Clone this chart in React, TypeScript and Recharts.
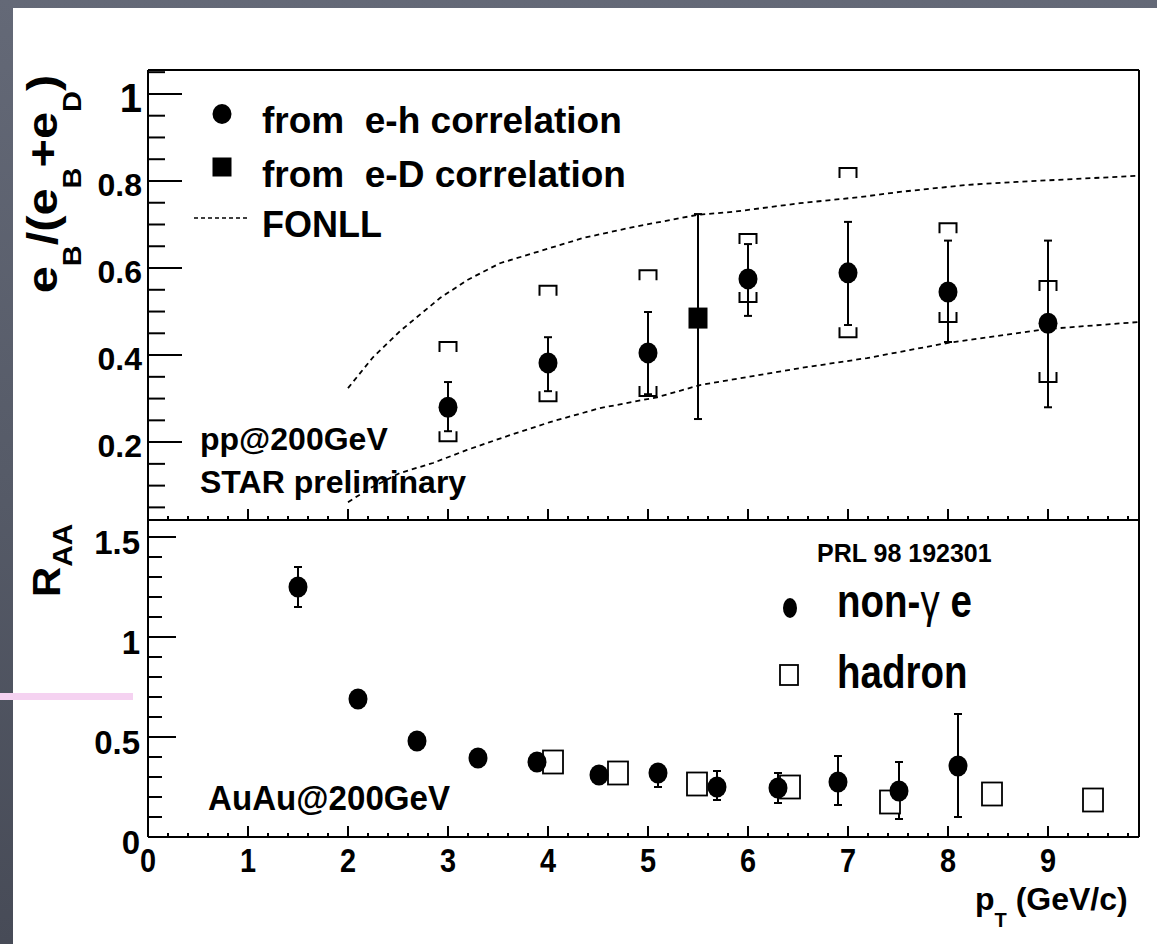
import React from 'react';
import { ComposedChart, Scatter, Line, XAxis, YAxis, ErrorBar, ReferenceLine } from 'recharts';

const FONT = '"Liberation Sans", Arial, Helvetica, sans-serif';

// ---------- axes ----------
const X_DOMAIN: [number, number] = [0, 9.91];
const X_TICKS = [0, 0.2, 0.4, 0.6, 0.8, 1, 1.2, 1.4, 1.6, 1.8, 2, 2.2, 2.4, 2.6, 2.8, 3, 3.2, 3.4, 3.6, 3.8, 4, 4.2, 4.4, 4.6, 4.8, 5, 5.2, 5.4, 5.6, 5.8, 6, 6.2, 6.4, 6.6, 6.8, 7, 7.2, 7.4, 7.6, 7.8, 8, 8.2, 8.4, 8.6, 8.8, 9, 9.2, 9.4, 9.6, 9.8];
const X_MAJOR = [0, 1, 2, 3, 4, 5, 6, 7, 8, 9];

const UP_Y_DOMAIN: [number, number] = [0.021, 1.055];
const UP_Y_TICKS = [0.05, 0.1, 0.15, 0.2, 0.25, 0.3, 0.35, 0.4, 0.45, 0.5, 0.55, 0.6, 0.65, 0.7, 0.75, 0.8, 0.85, 0.9, 0.95, 1, 1.05];
const UP_Y_MAJOR = [0.2, 0.4, 0.6, 0.8, 1];

const LO_Y_DOMAIN: [number, number] = [0, 1.585];
const LO_Y_TICKS = [0, 0.1, 0.2, 0.3, 0.4, 0.5, 0.6, 0.7, 0.8, 0.9, 1, 1.1, 1.2, 1.3, 1.4, 1.5];
const LO_Y_MAJOR = [0, 0.5, 1, 1.5];

// ---------- upper panel data ----------
const EH_X = [3, 4, 5, 6, 7, 8, 9];
const EH_Y = [0.28, 0.382, 0.405, 0.575, 0.589, 0.545, 0.473];
const EH_STAT_LO = [0.225, 0.317, 0.31, 0.49, 0.469, 0.43, 0.28];
const EH_STAT_HI = [0.338, 0.441, 0.499, 0.655, 0.706, 0.663, 0.663];
const EH_SYS_LO = [0.202, 0.294, 0.306, 0.522, 0.441, 0.476, 0.338];
const EH_SYS_HI = [0.43, 0.559, 0.595, 0.678, 0.83, 0.703, 0.57];

const ED_X = [5.5];
const ED_Y = [0.485];
const ED_STAT_LO = [0.253];
const ED_STAT_HI = [0.724];

const FONLL_HI_X = [2.0, 2.25, 2.52, 2.92, 3.19, 3.52, 3.95, 4.35, 4.85, 5.49, 5.85, 6.52, 7.12, 7.52, 8.19, 8.69, 9.91];
const FONLL_HI_Y = [0.324, 0.395, 0.455, 0.531, 0.572, 0.611, 0.641, 0.669, 0.694, 0.722, 0.729, 0.749, 0.763, 0.775, 0.791, 0.798, 0.812];
const FONLL_LO_X = [2.0, 2.22, 2.52, 2.85, 3.19, 3.62, 4.02, 4.52, 5.09, 5.52, 6.52, 7.19, 8.0, 9.0, 9.91];
const FONLL_LO_Y = [0.062, 0.094, 0.129, 0.152, 0.182, 0.216, 0.246, 0.278, 0.303, 0.331, 0.37, 0.393, 0.428, 0.46, 0.476];

// ---------- lower panel data ----------
const NG_X = [1.5, 2.1, 2.69, 3.3, 3.89, 4.51, 5.1, 5.69, 6.3, 6.9, 7.51, 8.1];
const NG_Y = [1.25, 0.69, 0.48, 0.395, 0.375, 0.31, 0.32, 0.25, 0.245, 0.275, 0.23, 0.355];
const NG_LO = [1.15, 0.665, 0.46, 0.375, 0.355, 0.29, 0.25, 0.185, 0.17, 0.16, 0.09, 0.1];
const NG_HI = [1.35, 0.715, 0.5, 0.415, 0.395, 0.33, 0.35, 0.33, 0.32, 0.405, 0.375, 0.615];

const HAD_X = [4.05, 4.7, 5.49, 6.42, 7.42, 8.44, 9.45];
const HAD_Y = [0.375, 0.32, 0.265, 0.25, 0.175, 0.215, 0.185];

// ---------- tables ----------
const ehData = EH_X.map((x, i) => ({ x, y: EH_Y[i], err: [EH_Y[i] - EH_STAT_LO[i], EH_STAT_HI[i] - EH_Y[i]] }));
const ehSysHi = EH_X.map((x, i) => ({ x, y: EH_SYS_HI[i] }));
const ehSysLo = EH_X.map((x, i) => ({ x, y: EH_SYS_LO[i] }));
const edData = ED_X.map((x, i) => ({ x, y: ED_Y[i], err: [ED_Y[i] - ED_STAT_LO[i], ED_STAT_HI[i] - ED_Y[i]] }));
const fonllHi = FONLL_HI_X.map((x, i) => ({ x, y: FONLL_HI_Y[i] }));
const fonllLo = FONLL_LO_X.map((x, i) => ({ x, y: FONLL_LO_Y[i] }));
const ngData = NG_X.map((x, i) => ({ x, y: NG_Y[i], err: [NG_Y[i] - NG_LO[i], NG_HI[i] - NG_Y[i]] }));
const hadData = HAD_X.map((x, i) => ({ x, y: HAD_Y[i] }));

const isIn = (arr: number[], v: number) => arr.some((a) => Math.abs(a - v) < 1e-6);
const fmt = (v: number) => String(Math.round(v * 100) / 100);

// ---------- tick renderers ----------
const UpperYTick = (props: any) => {
  const { x, y, payload } = props;
  const v = payload.value;
  const major = isIn(UP_Y_MAJOR, v);
  const big = Math.abs(v - 1) < 1e-6;
  return (
    <g>
      <line x1={x} x2={x + (major ? 34 : 17)} y1={y} y2={y} stroke="#000" strokeWidth={2} />
      {major && (
        <text x={x - 6} y={y + (big ? 18 : 15)} textAnchor="end" fontFamily={FONT} fontWeight="bold" fontSize={big ? 40 : 32} fill="#000">
          {fmt(v)}
        </text>
      )}
    </g>
  );
};

const LowerYTick = (props: any) => {
  const { x, y, payload } = props;
  const v = payload.value;
  const major = isIn(LO_Y_MAJOR, v);
  return (
    <g>
      <line x1={x} x2={x + (major ? 28 : 14)} y1={y} y2={y} stroke="#000" strokeWidth={2} />
      {major && (
        <text x={x - 8} y={y + 17} textAnchor="end" fontFamily={FONT} fontWeight="bold" fontSize={33} fill="#000">
          {fmt(v)}
        </text>
      )}
    </g>
  );
};

const makeXTick = (withLabels: boolean) => (props: any) => {
  const { x, y, payload } = props;
  const v = payload.value;
  const major = isIn(X_MAJOR, v);
  return (
    <g>
      <line x1={x} x2={x} y1={y} y2={y - (major ? 11 : 4)} stroke="#000" strokeWidth={2} />
      {withLabels && major && (
        <text transform={`translate(${x},${y + 35}) scale(0.85,1)`} x={0} y={0} textAnchor="middle" fontFamily={FONT} fontWeight="bold" fontSize={34} fill="#000">
          {fmt(v)}
        </text>
      )}
    </g>
  );
};
const UpperXTick = makeXTick(false);
const LowerXTick = makeXTick(true);

// ---------- marker shapes ----------
const DotUpper = (p: any) => <ellipse cx={p.cx} cy={p.cy} rx={9.5} ry={10.5} fill="#000" />;
const SquareUpper = (p: any) => <rect x={p.cx - 9.5} y={p.cy - 10.5} width={19} height={21} fill="#000" />;
const BracketTop = (p: any) => (
  <path d={`M${p.cx - 8.5},${p.cy + 10} V${p.cy} H${p.cx + 8.5} V${p.cy + 10}`} stroke="#000" strokeWidth={2} fill="none" />
);
const BracketBottom = (p: any) => (
  <path d={`M${p.cx - 8.5},${p.cy - 10} V${p.cy} H${p.cx + 8.5} V${p.cy - 10}`} stroke="#000" strokeWidth={2} fill="none" />
);
const DotLower = (p: any) => <ellipse cx={p.cx} cy={p.cy} rx={9.5} ry={10.5} fill="#000" />;
const OpenSquare = (p: any) => (
  <rect x={p.cx - 10} y={p.cy - 11.5} width={20} height={23} fill="#fff" stroke="#000" strokeWidth={1.8} />
);

const axisLine = { stroke: '#000', strokeWidth: 2 };

export default function App() {
  return (
    <div
      style={{
        position: 'fixed',
        left: 0,
        top: 0,
        width: 1157,
        height: 944,
        overflow: 'hidden',
        background: 'linear-gradient(180deg, #646977 0%, #565b68 50%, #474b57 100%)',
      }}
    >
      <div style={{ position: 'absolute', left: 13, top: 8, width: 1144, height: 936, background: '#fff' }} />

      {/* upper panel */}
      <div style={{ position: 'absolute', left: 0, top: 0 }}>
        <ComposedChart width={1157} height={540} margin={{ top: 70, right: 18, bottom: 0, left: 88 }}>
          <XAxis
            dataKey="x"
            type="number"
            domain={X_DOMAIN}
            allowDataOverflow
            ticks={X_TICKS}
            interval={0}
            height={20}
            tickSize={0}
            tickMargin={0}
            tickLine={false}
            axisLine={axisLine}
            tick={<UpperXTick />}
          />
          <YAxis
            dataKey="y"
            type="number"
            domain={UP_Y_DOMAIN}
            allowDataOverflow
            ticks={UP_Y_TICKS}
            interval={0}
            width={60}
            tickSize={0}
            tickMargin={0}
            tickLine={false}
            axisLine={axisLine}
            tick={<UpperYTick />}
          />
          <ReferenceLine y={UP_Y_DOMAIN[1]} stroke="#000" strokeWidth={2} />
          <ReferenceLine x={X_DOMAIN[1]} stroke="#000" strokeWidth={2} />
          <Line data={fonllHi} dataKey="y" type="linear" stroke="#000" strokeWidth={1.8} strokeDasharray="5 4" dot={false} isAnimationActive={false} />
          <Line data={fonllLo} dataKey="y" type="linear" stroke="#000" strokeWidth={1.8} strokeDasharray="5 4" dot={false} isAnimationActive={false} />
          <Scatter data={ehSysHi} dataKey="y" shape={BracketTop} isAnimationActive={false} />
          <Scatter data={ehSysLo} dataKey="y" shape={BracketBottom} isAnimationActive={false} />
          <Scatter data={ehData} dataKey="y" shape={DotUpper} isAnimationActive={false}>
            <ErrorBar dataKey="err" direction="y" width={4} stroke="#000" strokeWidth={2} isAnimationActive={false} />
          </Scatter>
          <Scatter data={edData} dataKey="y" shape={SquareUpper} isAnimationActive={false}>
            <ErrorBar dataKey="err" direction="y" width={4} stroke="#000" strokeWidth={2} isAnimationActive={false} />
          </Scatter>
        </ComposedChart>
      </div>

      {/* lower panel */}
      <div style={{ position: 'absolute', left: 0, top: 500 }}>
        <ComposedChart width={1157} height={444} margin={{ top: 20, right: 18, bottom: 47, left: 88 }}>
          <XAxis
            dataKey="x"
            type="number"
            domain={X_DOMAIN}
            allowDataOverflow
            ticks={X_TICKS}
            interval={0}
            height={60}
            tickSize={0}
            tickMargin={0}
            tickLine={false}
            axisLine={axisLine}
            tick={<LowerXTick />}
          />
          <YAxis
            dataKey="y"
            type="number"
            domain={LO_Y_DOMAIN}
            allowDataOverflow
            ticks={LO_Y_TICKS}
            interval={0}
            width={60}
            tickSize={0}
            tickMargin={0}
            tickLine={false}
            axisLine={axisLine}
            tick={<LowerYTick />}
          />
          <ReferenceLine x={X_DOMAIN[1]} stroke="#000" strokeWidth={2} />
          <Scatter data={hadData} dataKey="y" shape={OpenSquare} isAnimationActive={false} />
          <Scatter data={ngData} dataKey="y" shape={DotLower} isAnimationActive={false}>
            <ErrorBar dataKey="err" direction="y" width={4} stroke="#000" strokeWidth={2} isAnimationActive={false} />
          </Scatter>
        </ComposedChart>
      </div>

      {/* annotations */}
      <svg width={1157} height={944} style={{ position: 'absolute', left: 0, top: 0, pointerEvents: 'none' }} fontFamily={FONT} fontWeight="bold">
        {/* y label upper */}
        <text transform="translate(57,184) rotate(-90) scale(1.16,1)" textAnchor="middle" fontSize={42} fill="#000">
          e<tspan fontSize={25} dy={24}>B</tspan>
          <tspan dy={-24}>/(e</tspan>
          <tspan fontSize={25} dy={24}>B</tspan>
          <tspan dy={-24}>+e</tspan>
          <tspan fontSize={25} dy={24}>D</tspan>
          <tspan dy={-24}>)</tspan>
        </text>
        {/* y label lower */}
        <text transform="translate(60,597) rotate(-90) scale(1.1,1)" textAnchor="start" fontSize={38} fill="#000">
          R<tspan fontSize={27} dy={12}>AA</tspan>
        </text>
        {/* x label */}
        <text x={975} y={910} fontSize={32} fill="#000" style={{ whiteSpace: 'pre' }}>
          p<tspan fontSize={20} dy={17}>T</tspan>
          <tspan dy={-17}> (GeV/c)</tspan>
        </text>

        {/* upper legend */}
        <ellipse cx={222} cy={114} rx={9.5} ry={10} fill="#000" />
        <rect x={212.5} y={157.5} width={19} height={19} fill="#000" />
        <line x1={194} x2={247} y1={218} y2={218} stroke="#000" strokeWidth={1.5} strokeDasharray="4 3" />
        <text x={262} y={133} fontSize={37} fill="#000" style={{ whiteSpace: 'pre' }}>from  e-h correlation</text>
        <text x={262} y={187} fontSize={37} fill="#000" style={{ whiteSpace: 'pre' }}>from  e-D correlation</text>
        <text x={262} y={237} fontSize={36} fill="#000">FONLL</text>

        <text x={200} y={450} fontSize={32} fill="#000">pp@200GeV</text>
        <text x={200} y={493} fontSize={32} fill="#000">STAR preliminary</text>

        {/* lower annotations */}
        <text x={817} y={562} fontSize={25} fill="#000">PRL 98 192301</text>
        <ellipse cx={790} cy={608} rx={7} ry={10} fill="#000" />
        <text transform="translate(837,617) scale(0.82,1)" fontSize={47} fill="#000">
          non-<tspan fontWeight="normal">γ</tspan> e
        </text>
        <rect x={780} y={665} width={18} height={20} fill="#fff" stroke="#000" strokeWidth={1.8} />
        <text transform="translate(837,688) scale(0.82,1)" fontSize={47} fill="#000">hadron</text>

        <text transform="translate(208,810) scale(0.92,1)" fontSize={36} fill="#000">AuAu@200GeV</text>
      </svg>

      <div style={{ position: 'absolute', left: 0, top: 693, width: 133, height: 7, background: '#f5d2f1' }} />
    </div>
  );
}
